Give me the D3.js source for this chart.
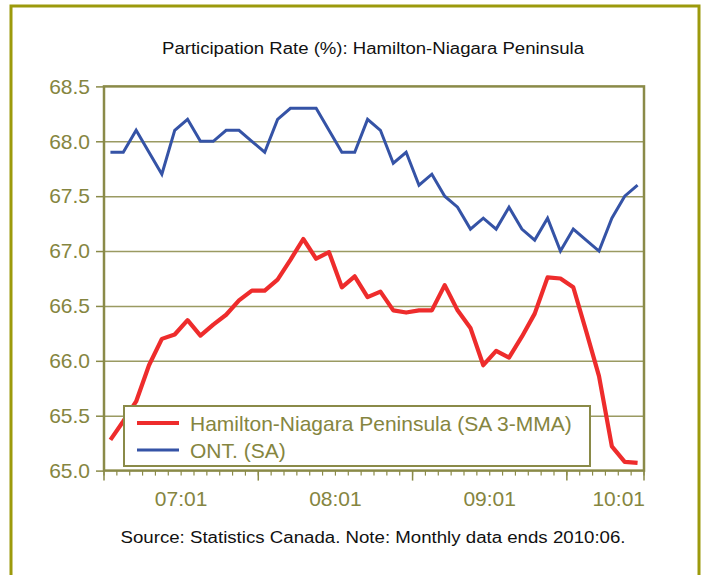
<!DOCTYPE html>
<html>
<head>
<meta charset="utf-8">
<script src="https://cdn.jsdelivr.net/npm/d3@7"></script>
<style>
  html, body { margin: 0; padding: 0; background: #fff; }
  svg { display: block; font-family: "Liberation Sans", Arial, sans-serif; }
  .tick-label { fill: #858540; font-size: 21px; }
  .title, .note { fill: #111; font-size: 16px; }
</style>
</head>
<body>
<script>
/* Participation Rate (%): Hamilton-Niagara Peninsula
 * Two monthly series on a category axis; labels sit on Jan boundaries,
 * long ticks on Jul boundaries (as in the original). */

const months = [
  '06:07','06:08','06:09','06:10','06:11','06:12',
  '07:01','07:02','07:03','07:04','07:05','07:06','07:07','07:08','07:09','07:10','07:11','07:12',
  '08:01','08:02','08:03','08:04','08:05','08:06','08:07','08:08','08:09','08:10','08:11','08:12',
  '09:01','09:02','09:03','09:04','09:05','09:06','09:07','09:08','09:09','09:10','09:11','09:12'
];

// Hamilton-Niagara Peninsula (SA 3-MMA)
const hamilton = [
  65.28, 65.45, 65.63, 65.96, 66.20, 66.24, 66.37, 66.23, 66.33, 66.42,
  66.55, 66.64, 66.64, 66.74, 66.92, 67.11, 66.93, 66.99, 66.67, 66.77,
  66.58, 66.63, 66.46, 66.44, 66.46, 66.46, 66.69, 66.46, 66.30, 65.96,
  66.09, 66.03, 66.22, 66.43, 66.76, 66.75, 66.67, 66.27, 65.86, 65.22,
  65.08, 65.07
];

// ONT. (SA)
const ontario = [
  67.9, 67.9, 68.1, 67.9, 67.7, 68.1, 68.2, 68.0, 68.0, 68.1,
  68.1, 68.0, 67.9, 68.2, 68.3, 68.3, 68.3, 68.1, 67.9, 67.9,
  68.2, 68.1, 67.8, 67.9, 67.6, 67.7, 67.5, 67.4, 67.2, 67.3,
  67.2, 67.4, 67.2, 67.1, 67.3, 67.0, 67.2, 67.1, 67.0, 67.3,
  67.5, 67.6
];

const yTicks      = [65.0, 65.5, 66.0, 66.5, 67.0, 67.5, 68.0, 68.5];
const xLabels     = ['07:01', '08:01', '09:01', '10:01'];
const majorMonths = ['07:07', '08:07', '09:07'];
const seriesNames = ['Hamilton-Niagara Peninsula (SA 3-MMA)', 'ONT. (SA)'];

const W = 702, H = 575;
const plot = { left: 104, top: 86.4, right: 644, bottom: 470.6 };
const OLIVE_FRAME = '#9c9a0c';
const OLIVE_AXIS  = '#8a8a48';
const OLIVE_GRID  = '#9a9a62';
const RED  = '#ee2c2c';
const BLUE = '#3553a6';

const svg = d3.select('body').append('svg').attr('width', W).attr('height', H);

// outer frame (bottom edge runs off the picture)
svg.append('rect')
  .attr('x', 11).attr('y', 6).attr('width', 688).attr('height', 600)
  .attr('fill', 'none').attr('stroke', OLIVE_FRAME).attr('stroke-width', 3);

// the source picture is a bit stretched sideways, so text gets a fixed length
svg.append('text').attr('class', 'title')
  .attr('x', 373).attr('y', 54).attr('text-anchor', 'middle')
  .attr('textLength', 422).attr('lengthAdjust', 'spacingAndGlyphs')
  .text('Participation Rate (%): Hamilton-Niagara Peninsula');

/* ---- scales ------------------------------------------------------------ */
const x = d3.scaleBand().domain(months).range([plot.left, plot.right]).padding(0);
const y = d3.scaleLinear().domain([65, 68.5]).range([plot.bottom, plot.top]);
const cx = m => x(m) + x.bandwidth() / 2;
const edge = m => months.includes(m) ? x(m) : plot.right;

/* ---- grid + y axis ----------------------------------------------------- */
svg.append('g')
  .attr('transform', `translate(${plot.left},0)`)
  .call(d3.axisLeft(y).tickValues(yTicks.slice(1, -1)).tickSize(-(plot.right - plot.left)).tickFormat(''))
  .call(g => g.select('.domain').remove())
  .call(g => g.selectAll('line').attr('stroke', OLIVE_GRID).attr('stroke-width', 1.5));

const yAxis = svg.append('g')
  .attr('transform', `translate(${plot.left},0)`)
  .call(d3.axisLeft(y).tickValues(yTicks).tickSize(8).tickPadding(6).tickFormat(d3.format('.1f')));
yAxis.select('.domain').remove();
yAxis.selectAll('line').attr('stroke', OLIVE_AXIS).attr('stroke-width', 1.5);
yAxis.selectAll('text').attr('class', 'tick-label').attr('font-size', null).attr('font-family', null);

/* ---- x axis ticks ------------------------------------------------------ */
const minorEdges = months.map(m => x(m)).concat([plot.right]);
svg.append('g').selectAll('line').data(minorEdges).join('line')
  .attr('x1', d => d).attr('x2', d => d)
  .attr('y1', plot.bottom).attr('y2', plot.bottom + 5)
  .attr('stroke', OLIVE_AXIS).attr('stroke-width', 1.2);

svg.append('g').selectAll('line').data([plot.left, ...majorMonths.map(edge), plot.right]).join('line')
  .attr('x1', d => d).attr('x2', d => d)
  .attr('y1', plot.bottom).attr('y2', plot.bottom + 10)
  .attr('stroke', OLIVE_AXIS).attr('stroke-width', 1.5);

svg.append('g').selectAll('text').data(xLabels).join('text')
  .attr('class', 'tick-label')
  .attr('x', d => months.includes(d) ? edge(d) : plot.right + 1)
  .attr('y', 506)
  .attr('text-anchor', d => months.includes(d) ? 'middle' : 'end')
  .text(d => d);

/* ---- plot border ------------------------------------------------------- */
svg.append('rect')
  .attr('x', plot.left).attr('y', plot.top)
  .attr('width', plot.right - plot.left).attr('height', plot.bottom - plot.top)
  .attr('fill', 'none').attr('stroke', OLIVE_AXIS).attr('stroke-width', 2.5);

/* ---- lines ------------------------------------------------------------- */
const line = d3.line().x((d, i) => cx(months[i])).y(d => y(d));

svg.append('path').datum(ontario)
  .attr('d', line).attr('fill', 'none')
  .attr('stroke', BLUE).attr('stroke-width', 3).attr('stroke-linejoin', 'miter');

svg.append('path').datum(hamilton)
  .attr('d', line).attr('fill', 'none')
  .attr('stroke', RED).attr('stroke-width', 4.2).attr('stroke-linejoin', 'round');

/* ---- legend ------------------------------------------------------------ */
const legend = svg.append('g').attr('transform', 'translate(124,406)');
legend.append('rect')
  .attr('width', 466).attr('height', 60)
  .attr('fill', '#fff').attr('stroke', OLIVE_AXIS).attr('stroke-width', 2);

const legendRows = legend.selectAll('g.row')
  .data(seriesNames.map((name, i) => ({ name, color: i === 0 ? RED : BLUE, w: i === 0 ? 4 : 3 })))
  .join('g').attr('class', 'row')
  .attr('transform', (d, i) => `translate(0,${17 + i * 27})`);
legendRows.append('line')
  .attr('x1', 13).attr('x2', 55).attr('y1', 0).attr('y2', 0)
  .attr('stroke', d => d.color).attr('stroke-width', d => d.w);
legendRows.append('text')
  .attr('class', 'tick-label')
  .attr('x', 66).attr('y', 0).attr('dy', '0.36em')
  .text(d => d.name);

svg.append('text').attr('class', 'note')
  .attr('x', 373).attr('y', 543).attr('text-anchor', 'middle')
  .attr('textLength', 505).attr('lengthAdjust', 'spacingAndGlyphs')
  .text('Source: Statistics Canada. Note: Monthly data ends 2010:06.');
</script>
</body>
</html>
